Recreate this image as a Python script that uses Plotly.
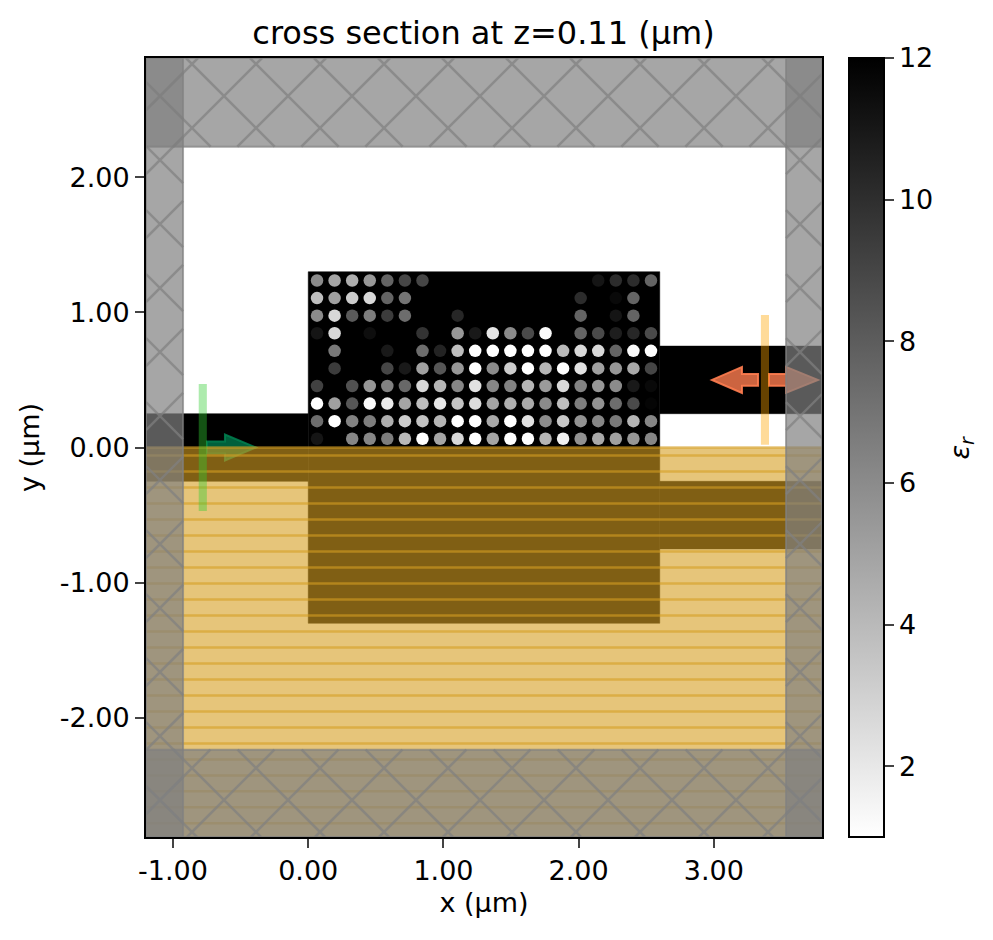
import plotly.graph_objects as go

# tick labels
x_ticks = [-1, 0, 1, 2, 3]
x_tick_labels = ["-1.00", "0.00", "1.00", "2.00", "3.00"]
y_ticks = [-2, -1, 0, 1, 2]
y_tick_labels = ["-2.00", "-1.00", "0.00", "1.00", "2.00"]
cbar_ticks = [2, 4, 6, 8, 10, 12]

# hole grid (um)
hole_x = [0.065, 0.195, 0.325, 0.455, 0.585, 0.715, 0.845, 0.975, 1.105, 1.235,
          1.365, 1.495, 1.625, 1.755, 1.885, 2.015, 2.145, 2.275, 2.405, 2.535]
hole_y = [1.235, 1.105, 0.975, 0.845, 0.715, 0.585, 0.455, 0.325, 0.195, 0.065]

# permittivity of each hole, top row first
hole_eps = [
    [6.0, 4.9, 4.5, 5.5, 7.7, 9.0, 9.0, 12, 12, 12, 12, 12, 12, 12, 12, 12, 11.1, 10.1, 10.1, 7.7],
    [3.8, 5.1, 3.2, 2.7, 7.7, 7.0, 12, 12, 12, 12, 12, 12, 12, 12, 12, 10.1, 12, 11.6, 7.7, 12],
    [6.0, 2.7, 8.1, 6.6, 9.4, 7.3, 12, 12, 10.3, 12, 12, 12, 12, 12, 12, 7.7, 12, 11.1, 7.7, 12],
    [11.1, 2.7, 12, 11.4, 12, 12, 9.8, 12, 5.5, 10.9, 2.1, 6.0, 8.8, 1.2, 12, 7.7, 8.8, 10.7, 10.3, 8.8],
    [12, 6.8, 12, 12, 10.9, 12, 7.3, 10.5, 3.8, 1.0, 1.0, 1.0, 1.0, 1.0, 4.0, 2.7, 2.7, 7.7, 1.2, 1.0],
    [12, 9.4, 12, 12, 9.0, 10.9, 5.1, 8.3, 5.5, 1.0, 6.0, 3.2, 1.0, 4.2, 1.0, 2.3, 5.1, 5.5, 4.7, 9.0],
    [9.2, 12, 8.5, 5.5, 6.4, 7.5, 2.7, 4.2, 6.2, 2.3, 6.2, 6.4, 4.2, 5.3, 2.7, 6.4, 5.5, 6.0, 10.9, 11.6],
    [1.0, 5.1, 8.3, 1.2, 1.9, 4.9, 3.8, 2.1, 3.6, 2.5, 4.9, 4.5, 4.7, 6.0, 3.8, 6.6, 5.7, 7.3, 8.8, 11.8],
    [7.3, 1.0, 6.4, 6.6, 4.5, 3.2, 3.6, 4.2, 1.0, 1.0, 4.7, 1.0, 2.3, 6.0, 3.4, 5.7, 6.2, 6.8, 4.2, 6.2],
    [11.1, 12, 6.2, 6.2, 6.6, 4.0, 1.0, 4.9, 2.7, 1.0, 4.9, 1.0, 1.0, 4.2, 1.6, 5.7, 4.7, 5.1, 5.5, 6.2],
]

x_min, x_max = -1.2, 3.8
y_min, y_max = -2.881, 2.881
pml_left, pml_right = -0.926, 3.534
pml_top, pml_bottom = 2.225, -2.235

# x0, x1, y0, y1 of the silicon parts
structures = [
    (-1.2, 0.0, -0.25, 0.25),
    (0.0, 2.6, -1.3, 1.3),
    (2.6, 3.8, 0.25, 0.75),
    (2.6, 3.8, -0.75, -0.25),
]

FONT = "DejaVu Sans"
PML_FILL = "rgba(128,128,128,0.7)"
SYM_FILL = "rgba(213,158,33,0.6)"
STRIPE_STEP = 0.1183
HATCH_STEP = 0.4734

shapes = []


def addRect(x0, x1, y0, y1, fill, line=None, width=0):
    shapes.append(dict(type="rect", xref="x", yref="y", x0=x0, x1=x1, y0=y0, y1=y1,
                       fillcolor=fill, line=dict(color=line or "rgba(0,0,0,0)", width=width),
                       layer="above"))


def addPath(points, fill, line, width=2):
    path = "M " + " L ".join(f"{px:.4f},{py:.4f}" for px, py in points) + " Z"
    shapes.append(dict(type="path", xref="x", yref="y", path=path, fillcolor=fill,
                       line=dict(color=line, width=width), layer="above"))


def addArrow(xTail, xBase, xTip, yMid, fill, line):
    shaft = 0.044
    head = 0.096
    addPath([(xTail, yMid - shaft), (xBase, yMid - shaft), (xBase, yMid - head), (xTip, yMid),
             (xBase, yMid + head), (xBase, yMid + shaft), (xTail, yMid + shaft)], fill, line)


def addHatch(x0, x1, y0, y1):
    # 45 degree cross hatch, clipped to the rectangle
    path = ""
    for n in range(-30, 30):
        c = 0.083 + n * HATCH_STEP      # x + y = c
        a, b = max(x0, c - y1), min(x1, c - y0)
        if a < b:
            path += f"M {a:.4f},{c - a:.4f} L {b:.4f},{c - b:.4f} "
        c = 0.091 + n * HATCH_STEP      # x - y = c
        a, b = max(x0, y0 + c), min(x1, y1 + c)
        if a < b:
            path += f"M {a:.4f},{a - c:.4f} L {b:.4f},{b - c:.4f} "
    shapes.append(dict(type="path", xref="x", yref="y", path=path, fillcolor="rgba(0,0,0,0)",
                       line=dict(color=PML_FILL, width=2.5), layer="above"))


# silicon goes under the holes
for x0, x1, y0, y1 in structures:
    shapes.append(dict(type="rect", xref="x", yref="y", x0=x0, x1=x1, y0=y0, y1=y1,
                       fillcolor="black", line=dict(color="black", width=0.5), layer="below"))

# arrows sit under the symmetry overlay
addArrow(-0.749, -0.616, -0.386, 0.0, "rgba(0,128,80,0.75)", "rgba(0,128,80,0.85)")
addArrow(3.327, 3.208, 2.986, 0.5, "rgba(255,125,80,0.8)", "rgba(255,125,80,0.9)")
addArrow(3.408, 3.534, 3.770, 0.5, "rgba(255,125,80,0.8)", "rgba(255,125,80,0.9)")

# symmetry overlay and its stripes
addRect(x_min, x_max, y_min, 0.0, SYM_FILL)
stripes = ""
y = -STRIPE_STEP / 2
while y > y_min:
    stripes += f"M {x_min},{y:.4f} L {x_max},{y:.4f} "
    y -= STRIPE_STEP
stripes += f"M {x_min},0 L {x_max},0 "
shapes.append(dict(type="path", xref="x", yref="y", path=stripes, fillcolor="rgba(0,0,0,0)",
                   line=dict(color=SYM_FILL, width=2.5), layer="above"))

# source and monitor planes
addRect(-0.81, -0.75, -0.47, 0.47, "rgba(50,205,50,0.4)")
addRect(3.348, 3.408, 0.02, 0.98, "rgba(255,165,0,0.4)")

# PML bands
for x0, x1, y0, y1 in [(x_min, pml_left, y_min, y_max), (pml_right, x_max, y_min, y_max),
                       (x_min, x_max, pml_top, y_max), (x_min, x_max, y_min, pml_bottom)]:
    addRect(x0, x1, y0, y1, PML_FILL, PML_FILL, 2)
    addHatch(x0, x1, y0, y1)

fig = go.Figure()
fig.add_trace(go.Scatter(
    x=[hx for _ in hole_y for hx in hole_x],
    y=[hy for hy in hole_y for _ in hole_x],
    mode="markers",
    showlegend=False,
    marker=dict(
        size=12.5,
        color=[e for row in hole_eps for e in row],
        cmin=1, cmax=12,
        colorscale=[[0, "#ffffff"], [1, "#000000"]],
        line=dict(width=0),
        showscale=True,
        colorbar=dict(
            x=1 + 27 / 676, xanchor="left", xpad=0, y=0.5, ypad=0, len=1,
            thickness=35, outlinewidth=2, outlinecolor="black",
            tickmode="array", tickvals=cbar_ticks, ticks="outside", ticklen=9, tickwidth=2,
            tickprefix="\u2009",
            tickfont=dict(family=FONT, size=27, color="black"),
        ),
    ),
))

fig.update_layout(
    width=985, height=932,
    margin=dict(l=138, r=171, t=50, b=103),
    paper_bgcolor="white", plot_bgcolor="white",
    font=dict(family=FONT, size=27, color="black"),
    title=dict(text="cross section at z=0.11 (μm)", x=475.5 / 985, xanchor="center",
               y=1 - 25 / 932, yanchor="middle", font=dict(family=FONT, size=32, color="black")),
    shapes=shapes,
    annotations=[dict(text="<i>ε<sub>r</sub></i>", xref="paper", yref="paper", x=1 + 139 / 676, y=0.5,
                      xanchor="center", yanchor="middle", textangle=-90, showarrow=False,
                      font=dict(family=FONT, size=27, color="black"))],
)
fig.update_xaxes(range=[x_min, x_max], tickmode="array", tickvals=x_ticks, ticktext=x_tick_labels,
                 ticks="outside", ticklen=9, tickwidth=2, showgrid=False, zeroline=False,
                 showline=True, mirror=True, linewidth=2, linecolor="black",
                 title=dict(text="x (μm)", standoff=8, font=dict(family=FONT, size=27, color="black")))
fig.update_yaxes(range=[y_min, y_max], tickmode="array", tickvals=y_ticks, ticktext=y_tick_labels,
                 ticks="outside", ticklen=9, tickwidth=2, showgrid=False, zeroline=False,
                 showline=True, mirror=True, linewidth=2, linecolor="black",
                 title=dict(text="y (μm)", standoff=12, font=dict(family=FONT, size=27, color="black")))

fig.write_html("out.html")
